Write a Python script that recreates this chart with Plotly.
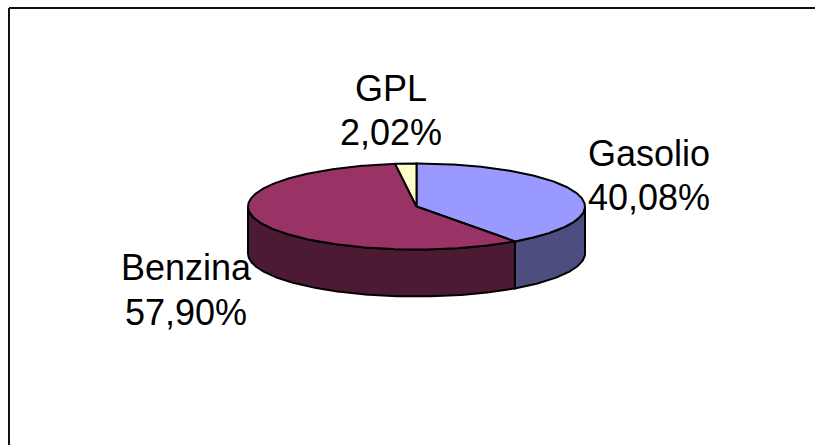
import numpy as np
import plotly.graph_objects as go

categories = ["Gasolio", "Benzina", "GPL"]
shares = [40.08, 57.90, 2.02]
top_colors = ["#9999FF", "#993366", "#FFFFCC"]
wall_colors = ["#4D4D80", "#4D1A33", "#808066"]

W, H = 815, 445
CX, CY, RX, RY, DEPTH = 416.5, 206.5, 168.5, 43, 47
LINE = dict(color="#000000", width=2)
# label centre x, and middle y of each of the two text rows
label_pos = {"Gasolio": (649, 153, 197), "Benzina": (186, 267, 312), "GPL": (391, 88, 132.5)}


def ellipse(a0, a1, dy=0.0):
    t = np.radians(np.linspace(a0, a1, max(int(abs(a1 - a0)) * 2, 2)))
    return CX + RX * np.sin(t), CY + dy - RY * np.cos(t)


fig = go.Figure()
edges = np.concatenate([[0], np.cumsum(shares)]) / sum(shares) * 360

# side walls (only the part of the rim that faces the viewer)
for i in range(len(categories)):
    a0, a1 = max(edges[i], 90), min(edges[i + 1], 270)
    if a1 <= a0:
        continue
    xt, yt = ellipse(a0, a1)
    xb, yb = ellipse(a1, a0, DEPTH)
    fig.add_trace(go.Scatter(
        x=np.r_[xt, xb, xt[0]], y=np.r_[yt, yb, yt[0]], mode="lines",
        fill="toself", fillcolor=wall_colors[i], line=LINE, hoverinfo="skip"))

# top faces
for i, name in enumerate(categories):
    xa, ya = ellipse(edges[i], edges[i + 1])
    fig.add_trace(go.Scatter(
        x=np.r_[CX, xa, CX], y=np.r_[CY, ya, CY], mode="lines",
        fill="toself", fillcolor=top_colors[i], line=LINE,
        name=name, hoverinfo="name"))

font = dict(family="Liberation Sans, Arial, sans-serif", size=36, color="#000000")
for name, share in zip(categories, shares):
    lx, y1, y2 = label_pos[name]
    pct = f"{share:.2f}%".replace(".", ",")
    for text, ly in ((name, y1), (pct, y2)):
        fig.add_annotation(x=lx, y=ly, text=text, showarrow=False, font=font,
                           xanchor="center", yanchor="middle")

# chart frame: top and left edges are visible, the rest is cropped away
fig.add_shape(type="line", x0=9, x1=W, y0=8, y1=8, line=dict(color="#111111", width=2))
fig.add_shape(type="line", x0=9, x1=9, y0=8, y1=H, line=dict(color="#111111", width=2))

axis = dict(visible=False, fixedrange=True)
fig.update_layout(
    width=W, height=H, margin=dict(l=0, r=0, t=0, b=0), showlegend=False,
    paper_bgcolor="#FFFFFF", plot_bgcolor="#FFFFFF",
    xaxis=dict(range=[0, W], **axis),
    yaxis=dict(range=[H, 0], **axis),
)
fig.write_html("out.html", config=dict(displayModeBar=False),
               post_script="document.body.style.margin='0';document.body.style.overflow='hidden';")
